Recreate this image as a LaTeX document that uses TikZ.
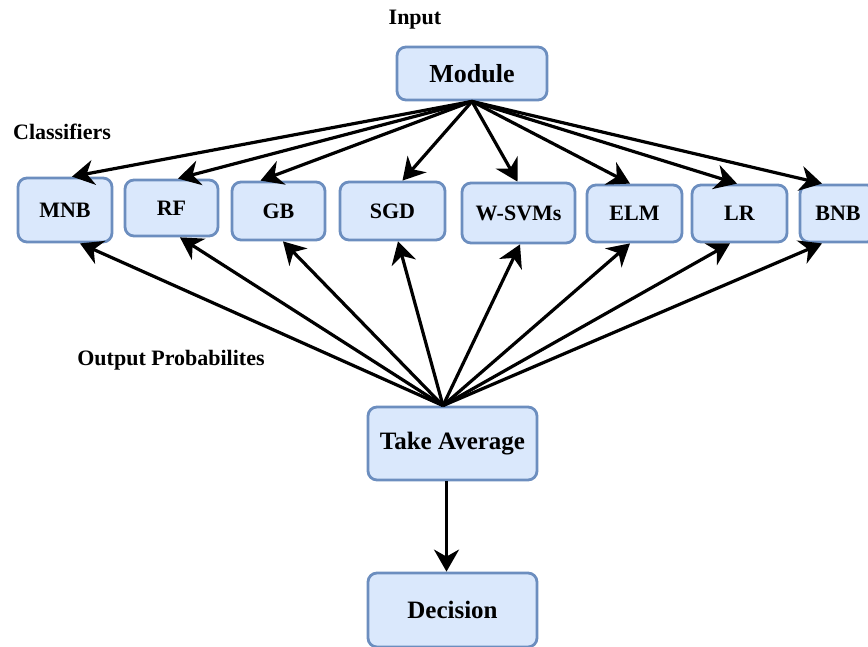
\documentclass[tikz,border=0pt]{standalone}
\usepackage{fontspec}
\setmainfont{Liberation Serif}
\usepackage{xcolor}
\usetikzlibrary{arrows.meta, positioning}
\definecolor{boxfill}{HTML}{DAE8FC}
\definecolor{boxline}{HTML}{6C8EBF}

\begin{document}
\begin{tikzpicture}[x=1pt, y=-1pt,
    box/.style={draw=boxline, line width=2.8pt, rounded corners=9pt, fill=boxfill, inner sep=0pt, font=\fontsize{22}{26}\selectfont\bfseries},
    lbl/.style={font=\fontsize{22}{26}\selectfont\bfseries},
    arr/.style={-{Stealth[length=22pt, width=25pt, inset=7pt]}, line width=3.2pt, black}]
    \clip (0,0) rectangle (868,646);
    % Input and module
    \node[lbl] (input) at (415,20) {Input};
    \node[box, minimum width=150pt, minimum height=53pt, font=\fontsize{26}{30}\selectfont\bfseries] (module) at (472,73.5) {Module};
    % Classifiers
    \node[lbl] (cls) at (62,132) {Classifiers};
    \node[box, minimum width=94pt, minimum height=64pt] (mnb) at (65,210) {MNB};
    \node[box, minimum width=93pt, minimum height=56pt] (rf) at (171.5,208) {RF};
    \node[box, minimum width=93pt, minimum height=58pt] (gb) at (278.5,211) {GB};
    \node[box, minimum width=105pt, minimum height=58pt] (sgd) at (392.5,211) {SGD};
    \node[box, minimum width=113pt, minimum height=60pt] (wsvm) at (518.5,213) {W-SVMs};
    \node[box, minimum width=95pt, minimum height=57pt] (elm) at (634.5,213.5) {ELM};
    \node[box, minimum width=95pt, minimum height=57pt] (lr) at (739.5,213.5) {LR};
    \node[box, minimum width=76pt, minimum height=57pt] (bnb) at (838,213.5) {BNB};
    % Averaging and decision
    \node[lbl] (outp) at (171,360) {Output Probabilites};
    \node[box, minimum width=169pt, minimum height=73pt, font=\fontsize{25}{30}\selectfont\bfseries] (avg) at (452.5,443.5) {Take Average};
    \node[box, minimum width=169pt, minimum height=74pt, font=\fontsize{25}{30}\selectfont\bfseries] (dec) at (452.5,610) {Decision};
    % Module to classifiers
    \draw[arr] (module.south) -- ([xshift=7pt]mnb.north);
    \draw[arr] (module.south) -- ([xshift=6.5pt]rf.north);
    \draw[arr] (module.south) -- ([xshift=-18pt]gb.north);
    \draw[arr] (module.south) -- ([xshift=10pt]sgd.north);
    \draw[arr] (module.south) -- ([xshift=-1pt]wsvm.north);
    \draw[arr] (module.south) -- ([xshift=-4.5pt]elm.north);
    \draw[arr] (module.south) -- ([xshift=-2.5pt]lr.north);
    \draw[arr] (module.south) -- ([xshift=-16pt]bnb.north);
    % Average to classifiers
    \draw[arr] ([xshift=-9.5pt]avg.north) -- ([xshift=15pt]mnb.south);
    \draw[arr] ([xshift=-9.5pt]avg.north) -- ([xshift=8.5pt]rf.south);
    \draw[arr] ([xshift=-9.5pt]avg.north) -- ([xshift=4.5pt]gb.south);
    \draw[arr] ([xshift=-9.5pt]avg.north) -- ([xshift=5.5pt]sgd.south);
    \draw[arr] ([xshift=-9.5pt]avg.north) -- ([xshift=1.5pt]wsvm.south);
    \draw[arr] ([xshift=-9.5pt]avg.north) -- ([xshift=-4.5pt]elm.south);
    \draw[arr] ([xshift=-9.5pt]avg.north) -- ([xshift=-9.5pt]lr.south);
    \draw[arr] ([xshift=-9.5pt]avg.north) -- ([xshift=-16pt]bnb.south);
    \draw[arr] ([xshift=-6pt]avg.south) -- ([xshift=-6pt]dec.north);
\end{tikzpicture}
\end{document}
